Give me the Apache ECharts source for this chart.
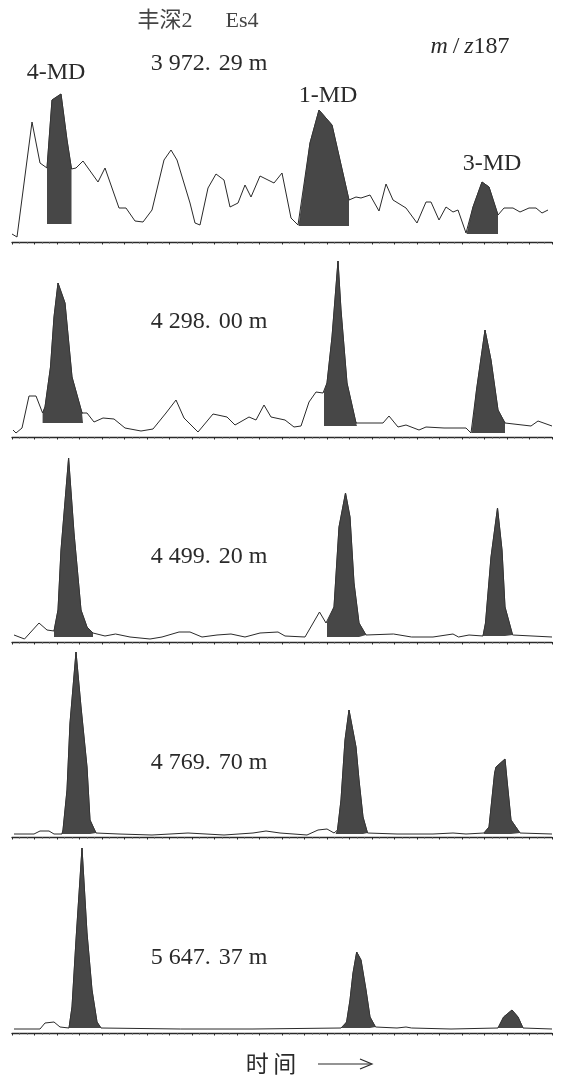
<!DOCTYPE html>
<html><head><meta charset="utf-8">
<script src="https://cdn.jsdelivr.net/npm/echarts@6/dist/echarts.min.js"></script>
<style>html,body{margin:0;padding:0;background:#fff}#c{width:566px;height:1075px}</style>
</head><body><div id="c"></div>
<script>
// time axis ticks
const timeMin = 0, timeMax = 540, timeStep = 22.5;
const peakNames = ['4-MD', '1-MD', '3-MD'];
const depths = ['3 972.\u200429 m', '4 298.\u200400 m', '4 499.\u200420 m', '4 769.\u200470 m', '5 647.\u200437 m'];

// Panel 1 — 3 972.29 m  [time, intensity]
const p1_pre = [[0,8],[5,5],[20,120],[28,79],[35,74]];
const p1_4MD = [[35,74],[40,142],[49,148],[55,102],[59.5,73]];
const p1_mid1 = [[64,74],[71,81],[86,60],[93,74],[107,34],[114,34],[123,21],[131,20],[140,32],[152,82],[159,92],[165,82],[178,39],[183,19],[188,17],[196,54],[204,68],[212,62],[218,35],[226,39],[233,57],[239,45],[248,66],[262,59],[270,69],[279,24],[286,17]];
const p1_1MD = [[287,16],[298,99],[307,132],[320,117],[337,42]];
const p1_mid2 = [[344,45],[349,44],[358,47],[367,31],[374,58],[381,42],[394,34],[405,19],[414,40],[419,40],[427,22],[434,35],[441,30],[446,32],[454,9]];
const p1_3MD = [[455,8],[461,35],[470,60],[477,55],[486,27]];
const p1_post = [[492,34],[501,34],[508,30],[517,34],[524,34],[530,29],[536,32]];
const p1_bases = [18, 16, 8];

// Panel 2 — 4 298.00 m
const p2_pre = [[1,7],[4,4],[10,9],[17,41],[24,41],[30.6,24]];
const p2_4MD = [[30.6,24],[33,30],[38.5,70],[42,120],[46,154],[53,134],[60,60],[70,24],[71,24]];
const p2_mid1 = [[75,24],[82,15],[91,19],[102,18],[113,9],[129,6],[141,8],[154,24],[164,37],[172,19],[186,5],[201,23],[215,20],[223,12],[237,20],[244,17],[252,32],[259,20],[273,17],[282,10],[289,11],[297,35],[304,45],[311,44]];
const p2_1MD = [[312,44],[315,54],[320,100],[326,176],[329,127],[335,54],[344,14],[345,14]];
const p2_mid2 = [[371,14],[377,21],[386,10],[394,12],[407,7],[414,10],[432,9],[454,9],[459,4]];
const p2_3MD = [[460,4],[464.5,47],[473,107],[479,77],[486,27],[493,14]];
const p2_post = [[519,11],[526,16],[540,11]];
const p2_bases = [14, 11, 4];

// Panel 3 — 4 499.20 m
const p3_pre = [[2,7],[12.5,3],[27,19],[35,12],[42,11]];
const p3_4MD = [[42,11],[46,32],[49,92],[56.6,184],[62,109],[69,32],[75,15],[81,9]];
const p3_mid1 = [[93,6],[103.5,8],[118,5],[138,3],[150,5],[167,10],[178,10],[190,5],[205,7],[219,8],[233,5],[248,9],[266,10],[273,6],[293,5],[307.5,30],[314,19]];
const p3_1MD = [[315,19],[322,35],[327,115],[333.5,149],[338,125],[342,59],[347,19],[354,7]];
const p3_mid2 = [[381.5,8],[399.5,5],[421,5],[441,8],[446.5,5],[457,7],[471,6]];
const p3_3MD = [[471,6],[473.5,19],[479,85],[485.5,134],[490,92],[493,35],[500.6,7]];
const p3_post = [[501,6],[540,5]];
const p3_bases = [5, 5, 6];

// Panel 4 — 4 769.70 m
const p4_pre = [[2,3],[22,3],[28,6],[37,6],[42,3],[50,3]];
const p4_4MD = [[50,3],[51,7],[55,47],[58,114],[64,185],[69,130],[75,70],[78,17],[84,4]];
const p4_mid1 = [[107,3],[140,2],[176,4],[212,2],[241,4],[254,6],[268,4],[295,2],[306,7],[315,8],[322,4]];
const p4_1MD = [[324,3],[325.5,7],[329,37],[333,97],[337,127],[344,90],[347,57],[351,20],[355.5,4]];
const p4_mid2 = [[385,3],[421,3],[441,4],[454,3],[472,4]];
const p4_3MD = [[472,4],[477,10],[482.6,64],[484,70],[493,78],[495,57],[499,17],[508,4]];
const p4_post = [[508,3],[540,3]];
const p4_bases = [3, 3, 3];

// Panel 5 — 5 647.37 m
const p5_pre = [[2,4],[28,4],[33,10],[42,11],[48,6],[57,5]];
const p5_4MD = [[57,5],[60,26],[64,93],[70,185],[75,100],[80,43],[85,11],[89,5]];
const p5_mid1 = [[168.5,4],[241,4],[329,5]];
const p5_1MD = [[330,5],[334.6,11],[338,33],[341,60],[344.7,81],[349,73],[354,43],[358,16],[363.5,6]];
const p5_mid2 = [[385,5],[394,6],[399.6,5],[439,4],[486,5]];
const p5_3MD = [[486,5],[491.6,16],[500,23],[506,16],[511,5]];
const p5_post = [[540,4]];
const p5_bases = [5, 5, 5];

const panelData = [
  {parts:[p1_pre,p1_4MD,p1_mid1,p1_1MD,p1_mid2,p1_3MD,p1_post], peaks:[p1_4MD,p1_1MD,p1_3MD], bases:p1_bases},
  {parts:[p2_pre,p2_4MD,p2_mid1,p2_1MD,p2_mid2,p2_3MD,p2_post], peaks:[p2_4MD,p2_1MD,p2_3MD], bases:p2_bases},
  {parts:[p3_pre,p3_4MD,p3_mid1,p3_1MD,p3_mid2,p3_3MD,p3_post], peaks:[p3_4MD,p3_1MD,p3_3MD], bases:p3_bases},
  {parts:[p4_pre,p4_4MD,p4_mid1,p4_1MD,p4_mid2,p4_3MD,p4_post], peaks:[p4_4MD,p4_1MD,p4_3MD], bases:p4_bases},
  {parts:[p5_pre,p5_4MD,p5_mid1,p5_1MD,p5_mid2,p5_3MD,p5_post], peaks:[p5_4MD,p5_1MD,p5_3MD], bases:p5_bases}
];

// layout (pixels): axis baseline y and panel height
const layout = [
  {axisY:242, h:160, labelY:64},
  {axisY:437, h:185, labelY:322},
  {axisY:642, h:190, labelY:557},
  {axisY:837, h:190, labelY:763},
  {axisY:1033, h:190, labelY:958}
];

const FONT = '"Liberation Serif","Noto Sans CJK SC",serif';
const INK = '#2a2a2a';
const FILL = '#474747';

const grids = [], xAxes = [], yAxes = [], series = [], graphics = [];
layout.forEach((L, i) => {
  grids.push({left:12, width:540, top:L.axisY - L.h, height:L.h});
  xAxes.push({
    type:'value', gridIndex:i, min:timeMin, max:timeMax, interval:timeStep,
    axisLine:{show:true, onZero:false, lineStyle:{color:INK, width:1.3}},
    axisTick:{show:true, inside:false, length:2.5, lineStyle:{color:INK, width:1}},
    minorTick:{show:true, splitNumber:3, length:1.5, lineStyle:{color:'#555'}},
    axisLabel:{show:false}, splitLine:{show:false}
  });
  yAxes.push({type:'value', gridIndex:i, min:0, max:L.h, show:false, splitLine:{show:false}});
  const P = panelData[i];
  const trace = [].concat(...P.parts);
  series.push({
    type:'line', xAxisIndex:i, yAxisIndex:i, data:trace, showSymbol:false, symbol:'none',
    lineStyle:{color:INK, width:1}, z:2, silent:true, animation:false
  });
  P.peaks.forEach((pk, k) => {
    series.push({
      name:peakNames[k], type:'line', xAxisIndex:i, yAxisIndex:i, data:pk, symbol:'none',
      lineStyle:{color:'#333', width:0.8},
      areaStyle:{color:FILL, opacity:1, origin:P.bases[k]},
      z:3, silent:true, animation:false
    });
  });
  graphics.push({type:'text', x:209, y:L.labelY, style:{text:depths[i], font:'24px '+FONT, fill:INK, align:'center', verticalAlign:'middle'}});
});

graphics.push(
  {type:'text', x:198, y:21, style:{text:'丰深2\u3000\u2002Es4', font:'22px '+FONT, fill:'#444', align:'center', verticalAlign:'middle'}},
  {type:'text', x:56, y:73, style:{text:'4-MD', font:'24px '+FONT, fill:INK, align:'center', verticalAlign:'middle'}},
  {type:'text', x:328, y:96, style:{text:'1-MD', font:'24px '+FONT, fill:INK, align:'center', verticalAlign:'middle'}},
  {type:'text', x:492, y:164, style:{text:'3-MD', font:'24px '+FONT, fill:INK, align:'center', verticalAlign:'middle'}},
  {type:'text', x:470, y:47, style:{text:'{i|m}\u2009/\u2009{i|z}187', font:'24px '+FONT, fill:INK, align:'center', verticalAlign:'middle',
    rich:{i:{fontStyle:'italic', fontFamily:'Liberation Serif', fontSize:24, fill:INK}}}},
  {type:'text', x:271, y:1063, style:{text:'时\u2009间', font:'23px "Noto Sans CJK SC"', fill:INK, align:'center', verticalAlign:'middle'}},
  {type:'line', shape:{x1:318, y1:1064, x2:371, y2:1064}, style:{stroke:INK, lineWidth:1.2}},
  {type:'polyline', shape:{points:[[360,1059],[372,1064],[360,1069]]}, style:{stroke:INK, lineWidth:1.2, fill:null}}
);

const chart = echarts.init(document.getElementById('c'), null, {renderer:'canvas'});
chart.setOption({
  animation:false, backgroundColor:'#fff',
  grid:grids, xAxis:xAxes, yAxis:yAxes, series:series, graphic:graphics
});
</script></body></html>
